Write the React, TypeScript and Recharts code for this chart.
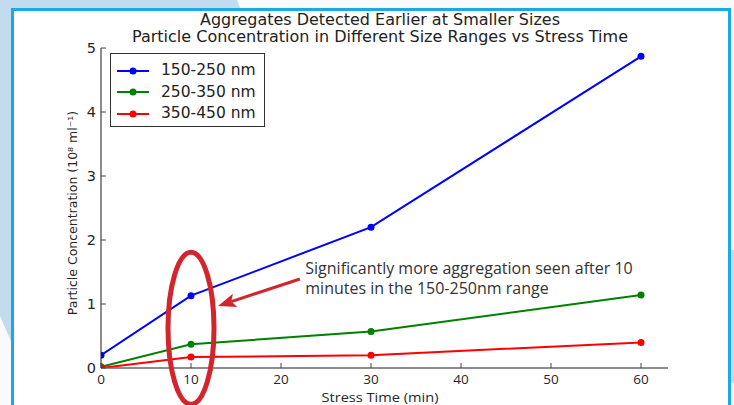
import React from 'react';
import {
  LineChart, Line, XAxis, YAxis, ReferenceDot, ReferenceLine, Legend,
} from 'recharts';

const times = [0, 10, 30, 60];
const s150 = [0.2, 1.13, 2.2, 4.87];
const s250 = [0.02, 0.37, 0.57, 1.14];
const s350 = [0.0, 0.17, 0.2, 0.4];
const seriesNames = ['150-250 nm', '250-350 nm', '350-450 nm'];
const seriesColors = ['#0000ff', '#008000', '#ff0000'];
const xTicks = [0, 10, 20, 30, 40, 50, 60];
const yTicks = [0, 1, 2, 3, 4, 5];
const titleLines = [
  'Aggregates Detected Earlier at Smaller Sizes',
  'Particle Concentration in Different Size Ranges vs Stress Time',
];
const noteLines = [
  'Significantly more aggregation seen after 10',
  'minutes in the 150-250nm range',
];

const data = times.map((t, i) => ({ time: t, a: s150[i], b: s250[i], c: s350[i] }));

const FONT = '"DejaVu Sans", sans-serif';
const OPEN = '"Open Sans", sans-serif';
const TICK_COLOR = '#262626';
const RED = '#d1262d';

const BottomTick = (p: any) => (
  <g>
    <line x1={p.x} y1={p.y} x2={p.x} y2={p.y - 5} stroke="#444" strokeWidth={1} />
    <text x={p.x} y={p.y + 15.5} textAnchor="middle" fontSize={13.5} fontFamily={OPEN} fill={TICK_COLOR}>
      {p.payload.value}
    </text>
  </g>
);
const TopTick = (p: any) => (
  <line x1={p.x} y1={p.y} x2={p.x} y2={p.y + 5} stroke="#444" strokeWidth={1} />
);
const LeftTick = (p: any) => (
  <g>
    <line x1={p.x} y1={p.y} x2={p.x + 5} y2={p.y} stroke="#444" strokeWidth={1} />
    <text x={p.x - 5} y={p.y + 5} textAnchor="end" fontSize={14.5} fontFamily={FONT} fill={TICK_COLOR}>
      {p.payload.value}
    </text>
  </g>
);
const RightTick = (p: any) => (
  <line x1={p.x} y1={p.y} x2={p.x - 5} y2={p.y} stroke="#444" strokeWidth={1} />
);

const LegendBox = () => (
  <div
    style={{
      width: 155,
      height: 74,
      border: '1px solid #333',
      background: '#fff',
      boxSizing: 'border-box',
      paddingTop: 6,
    }}
  >
    {seriesNames.map((n, i) => (
      <div key={n} style={{ display: 'flex', alignItems: 'center', height: 21.5 }}>
        <svg width={46} height={12} style={{ marginLeft: 4 }}>
          <line x1={2} y1={6} x2={34} y2={6} stroke={seriesColors[i]} strokeWidth={2} />
          <circle cx={18} cy={6} r={3.5} fill={seriesColors[i]} />
        </svg>
        <span style={{ fontFamily: FONT, fontSize: 15.5, color: '#222', lineHeight: '15px' }}>{n}</span>
      </div>
    ))}
  </div>
);

const Ellipse = (p: any) => (
  <ellipse cx={p.cx} cy={p.cy} rx={23} ry={76} fill="none" stroke={RED} strokeWidth={5} />
);

const Arrow = (p: any) => {
  const { x1, y1, x2, y2 } = p;
  const dx = x2 - x1;
  const dy = y2 - y1;
  const len = Math.sqrt(dx * dx + dy * dy);
  const ux = dx / len;
  const uy = dy / len;
  const hl = 18;
  const hw = 7;
  const bx = x2 - ux * hl;
  const by = y2 - uy * hl;
  const pts = `${x2},${y2} ${bx - uy * hw},${by + ux * hw} ${bx + ux * 4},${by + uy * 4} ${bx + uy * hw},${by - ux * hw}`;
  return (
    <g>
      <line x1={x1} y1={y1} x2={bx + ux * 4} y2={by + uy * 4} stroke={RED} strokeWidth={3} />
      <polygon points={pts} fill={RED} />
    </g>
  );
};

const NoteText = (p: any) => (
  <text x={p.cx} y={p.cy} fontFamily={OPEN} fontSize={16} fill="#333">
    <tspan x={p.cx} dy={0}>{noteLines[0]}</tspan>
    <tspan x={p.cx} dy={20}>{noteLines[1]}</tspan>
  </text>
);

const YLabel = (p: any) => {
  const vb = p.viewBox || {};
  const cx = 77;
  const cy = vb.y + vb.height / 2 + 5;
  return (
    <text
      x={cx}
      y={cy}
      transform={`rotate(-90 ${cx} ${cy})`}
      textAnchor="middle"
      fontFamily={FONT}
      fontSize={12.5}
      fill={TICK_COLOR}
    >
      Particle Concentration (10⁸ ml⁻¹)
    </text>
  );
};

export default function App() {
  return (
    <div style={{ position: 'absolute', left: 0, top: 0, width: 734, height: 405, overflow: 'hidden', background: '#fff' }}>
      <svg width={734} height={405} style={{ position: 'absolute', left: 0, top: 0 }}>
        <rect x={0} y={0} width={734} height={405} fill="#f9fafb" />
        <polygon points="0,0 237,0 245,20 14,348 0,316" fill="#c3dbef" />
        <rect x={725} y={250} width={9} height={133} fill="#c3dbef" />
        <rect x={12.5} y={9.5} width={717} height={420} fill="#ffffff" stroke="#19a9e4" strokeWidth={3} />
        <text x={380} y={25} textAnchor="middle" fontFamily={FONT} fontSize={15} fill="#222" textLength={360} lengthAdjust="spacingAndGlyphs">
          {titleLines[0]}
        </text>
        <text x={380} y={42} textAnchor="middle" fontFamily={FONT} fontSize={15} fill="#222" textLength={496} lengthAdjust="spacingAndGlyphs">
          {titleLines[1]}
        </text>
        <text x={380} y={402} textAnchor="middle" fontFamily={OPEN} fontSize={13.5} fill={TICK_COLOR} textLength={117} lengthAdjust="spacingAndGlyphs">
          Stress Time (min)
        </text>
      </svg>
      <div style={{ position: 'absolute', left: 0, top: 0 }}>
        <LineChart width={734} height={405} data={data} margin={{ top: 48, right: 66, bottom: 7, left: 61 }}>
          <XAxis
            dataKey="time"
            type="number"
            domain={[0, 63]}
            ticks={xTicks}
            allowDataOverflow
            height={30}
            tickSize={0}
            tickMargin={0}
            tick={<BottomTick />}
            axisLine={{ stroke: '#666', strokeWidth: 1.5 }}
            tickLine={false}
          />
          <XAxis
            xAxisId="top"
            orientation="top"
            type="number"
            domain={[0, 63]}
            ticks={xTicks}
            allowDataOverflow
            height={0}
            tickSize={0}
            tickMargin={0}
            tick={<TopTick />}
            axisLine={{ stroke: '#222', strokeWidth: 1 }}
            tickLine={false}
          />
          <YAxis
            type="number"
            domain={[0, 5]}
            ticks={yTicks}
            allowDataOverflow
            width={40}
            tickSize={0}
            tickMargin={0}
            tick={<LeftTick />}
            axisLine={{ stroke: '#666', strokeWidth: 1.5 }}
            tickLine={false}
            label={<YLabel />}
          />
          <YAxis
            yAxisId="right"
            orientation="right"
            type="number"
            domain={[0, 5]}
            ticks={yTicks}
            allowDataOverflow
            width={0}
            tickSize={0}
            tickMargin={0}
            tick={<RightTick />}
            axisLine={{ stroke: '#666', strokeWidth: 1.5 }}
            tickLine={false}
          />
          <Legend
            layout="vertical"
            align="center"
            verticalAlign="middle"
            wrapperStyle={{ position: 'absolute', left: 110, top: 53, width: 155, height: 74 }}
            content={<LegendBox />}
          />
          <Line dataKey="a" name={seriesNames[0]} stroke={seriesColors[0]} strokeWidth={2} dot={{ r: 3.5, fill: seriesColors[0], strokeWidth: 0 }} isAnimationActive={false} />
          <Line dataKey="b" name={seriesNames[1]} stroke={seriesColors[1]} strokeWidth={2} dot={{ r: 3.5, fill: seriesColors[1], strokeWidth: 0 }} isAnimationActive={false} />
          <Line dataKey="c" name={seriesNames[2]} stroke={seriesColors[2]} strokeWidth={2} dot={{ r: 3.5, fill: seriesColors[2], strokeWidth: 0 }} isAnimationActive={false} />
          <ReferenceDot x={10} y={0.62} ifOverflow="visible" shape={<Ellipse />} />
          <ReferenceLine
            segment={[{ x: 22.1, y: 1.39 }, { x: 13.0, y: 0.97 }]}
            ifOverflow="visible"
            shape={<Arrow />}
          />
          <ReferenceDot x={22.7} y={1.47} ifOverflow="visible" shape={<NoteText />} />
        </LineChart>
      </div>
    </div>
  );
}
